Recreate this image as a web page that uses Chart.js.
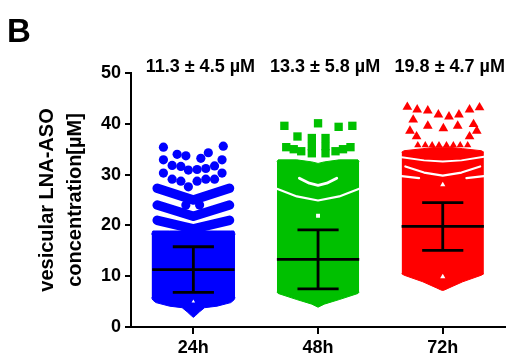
<!DOCTYPE html>
<html>
<head>
<meta charset="utf-8">
<script src="https://cdn.jsdelivr.net/npm/chart.js@4.4.1/dist/chart.umd.min.js"></script>
<style>
  html, body { margin: 0; padding: 0; background: #fff; }
  #wrap { width: 511px; height: 359px; }
</style>
</head>
<body>
<div id="wrap"><canvas id="chart"></canvas></div>
<script>
// groups
const categories = ['24h', '48h', '72h'];
const means = [11.3, 13.3, 19.8];
const sds = [4.5, 5.8, 4.7];
const colors = ['#0000ff', '#00c000', '#ff0000'];

// x values are offsets from the group centre (category units), y in µM

// 24h - dense body outline
const body24X = [-0.335, -0.325, -0.30, -0.19, -0.09, -0.05, -0.015, 0, 0.015, 0.05, 0.09, 0.19, 0.30, 0.325, 0.335];
const body24Low = [5.8, 5.3, 4.8, 4.1, 3.8, 3.0, 2.2, 1.9, 2.2, 3.0, 3.8, 4.1, 4.8, 5.3, 5.8];
const body24High = [18.2, 18.9, 18.9, 18.9, 18.9, 18.9, 18.9, 18.9, 18.9, 18.9, 18.9, 18.9, 18.9, 18.9, 18.2];
// 24h - chevron bands of packed points
const band24X = [-0.29, 0, 0.29];
const band24A = [27.3, 25.0, 27.3];
const band24B = [24.0, 21.8, 24.0];
const band24C = [21.0, 19.3, 21.0];
// 24h - single points
const dots24X = [-0.24, 0.24, -0.13, -0.06, 0.12, 0.06, -0.24, 0.23, -0.17, -0.10, -0.04, 0.03, 0.10, 0.17, -0.24, 0.23, -0.17, -0.10, -0.04, 0.03, 0.10, 0.17, -0.06, 0.05];
const dots24Y = [35.4, 35.6, 34.0, 33.7, 34.3, 33.2, 32.9, 32.9, 31.8, 31.6, 30.9, 31.0, 31.2, 31.7, 30.3, 30.3, 29.1, 28.7, 27.6, 28.7, 29.1, 29.1, 24.0, 24.0];

// 48h
const body48X = [-0.33, -0.32, -0.17, -0.05, 0, 0.05, 0.17, 0.32, 0.33];
const body48Low = [6.9, 6.6, 5.4, 4.5, 3.9, 4.5, 5.4, 6.6, 6.9];
const body48High = [32.5, 32.9, 32.9, 32.5, 32.2, 32.5, 32.9, 32.9, 32.5];
const dots48X = [-0.27, 0.0, 0.165, 0.275, -0.165, -0.05, 0.06, -0.05, 0.06, -0.05, 0.06, -0.255, -0.195, -0.135, 0.14, 0.20, 0.26];
const dots48Y = [39.6, 40.1, 39.4, 39.6, 37.5, 37.2, 37.2, 35.6, 35.6, 34.2, 34.2, 35.4, 35.0, 34.6, 34.6, 35.0, 35.4];
const gap48UX = [-0.33, -0.17, 0, 0.17, 0.33];
const gap48UY = [27.2, 25.7, 24.9, 25.7, 27.2];
const gap48SX = [-0.15, -0.07, 0, 0.07, 0.15];
const gap48SY = [29.3, 28.3, 27.9, 28.3, 29.3];

// 72h
const body72X = [-0.33, -0.31, -0.16, -0.05, -0.015, 0, 0.015, 0.05, 0.16, 0.31, 0.33];
const body72Low = [10.5, 10.2, 8.9, 7.7, 7.3, 7.2, 7.3, 7.7, 8.9, 10.2, 10.5];
const body72High = [34.4, 34.7, 35.1, 35.4, 35.4, 35.4, 35.4, 35.4, 35.1, 34.7, 34.4];
const dots72X = [-0.284, -0.205, -0.12, -0.035, 0.05, 0.13, 0.215, 0.295, -0.237, -0.12, 0.005, 0.12, 0.247, -0.263, -0.21, 0.215, 0.273];
const dots72Y = [43.3, 42.8, 42.6, 41.8, 41.4, 41.8, 42.8, 43.2, 40.8, 39.6, 39.1, 39.6, 39.9, 38.6, 37.5, 37.5, 38.6];
const teeth72X = [-0.2, -0.14, -0.085, -0.03, 0.03, 0.085, 0.14, 0.2];
const teeth72Y = [35.8, 35.8, 35.8, 35.8, 35.8, 35.8, 35.8, 35.8];
const gap72AX = [-0.33, -0.15, 0, 0.15, 0.33];
const gap72AY = [33.4, 32.8, 32.6, 32.8, 33.5];
const gap72BX = [-0.3, -0.15, 0, 0.15, 0.3];
const gap72BY = [31.6, 30.4, 29.8, 30.4, 31.6];
const holes72Y = [28.0, 9.9];

const FONT = '"Liberation Sans", Arial, sans-serif';

function pts(g, xs, ys) {
    return xs.map((x, i) => ({ x: g + x, y: ys[i] }));
}

const datasets = [];

function body(g, xs, low, high) {
    const c = colors[g];
    datasets.push({ type: 'line', data: pts(g, xs, low), borderColor: c, borderWidth: 1, pointRadius: 0, fill: false, order: 6 });
    datasets.push({ type: 'line', data: pts(g, xs, high), borderColor: c, borderWidth: 1, pointRadius: 0, backgroundColor: c, fill: '-1', order: 6 });
}

function stroke(g, xs, ys, color, width, order) {
    datasets.push({ type: 'line', data: pts(g, xs, ys), borderColor: color, borderWidth: width, borderCapStyle: 'round', borderJoinStyle: 'round', pointRadius: 0, fill: false, order });
}

function dots(g, xs, ys, style, radius, color, order) {
    datasets.push({ type: 'scatter', data: pts(g, xs, ys), pointStyle: style, pointRadius: radius, backgroundColor: color, borderWidth: 0, order });
}

// 24h
body(0, body24X, body24Low, body24High);
[band24A, band24B, band24C].forEach(b => stroke(0, band24X, b, colors[0], 9.5, 5));
dots(0, dots24X, dots24Y, 'circle', 4.6, colors[0], 4);
dots(0, [0], [5.0], 'triangle', 2, '#fff', 3);

// 48h
body(1, body48X, body48Low, body48High);
dots(1, dots48X, dots48Y, 'rect', 5.9, colors[1], 4);
stroke(1, gap48UX, gap48UY, '#fff', 2.2, 3);
stroke(1, gap48SX, gap48SY, '#fff', 2.8, 3);
dots(1, [0], [21.9], 'rect', 2.8, '#fff', 3);

// 72h
body(2, body72X, body72Low, body72High);
dots(2, dots72X, dots72Y, 'triangle', 5.6, colors[2], 4);
dots(2, teeth72X, teeth72Y, 'triangle', 4.2, colors[2], 4);
stroke(2, gap72AX, gap72AY, '#fff', 2, 3);
stroke(2, gap72BX, gap72BY, '#fff', 2.2, 3);
stroke(2, [-0.33, -0.19], [29.7, 29.3], '#fff', 2.2, 3);
stroke(2, [0.19, 0.33], [29.3, 29.7], '#fff', 2.2, 3);
dots(2, [0, 0], holes72Y, 'triangle', 3, '#fff', 3);

// mean +/- SD bars
means.forEach((m, g) => {
    const hi = m + sds[g], lo = m - sds[g];
    datasets.push({
        type: 'line',
        data: [
            { x: g - 0.33, y: m }, { x: g + 0.33, y: m }, { x: g, y: null },
            { x: g, y: lo }, { x: g, y: hi }, { x: g, y: null },
            { x: g - 0.165, y: hi }, { x: g + 0.165, y: hi }, { x: g, y: null },
            { x: g - 0.165, y: lo }, { x: g + 0.165, y: lo }
        ],
        borderColor: '#000', borderWidth: 2.8, pointRadius: 0, fill: false, spanGaps: false, order: 1
    });
});

const panelText = {
    id: 'panelText',
    afterDraw(chart) {
        const { ctx } = chart;
        const x = chart.scales.x;
        ctx.save();
        ctx.fillStyle = '#000';
        ctx.font = 'bold 33px ' + FONT;
        ctx.textBaseline = 'alphabetic';
        ctx.fillText('B', 7, 42);
        ctx.font = 'bold 18px ' + FONT;
        ctx.textAlign = 'center';
        ctx.textBaseline = 'middle';
        means.forEach((m, i) => {
            ctx.fillText(`${m.toFixed(1)} ± ${sds[i].toFixed(1)} µM`, x.getPixelForValue(i) + 7, 67);
        });
        ctx.restore();
    }
};

new Chart(document.getElementById('chart'), {
    type: 'scatter',
    data: { datasets },
    options: {
        responsive: true,
        maintainAspectRatio: false,
        animation: false,
        events: [],
        layout: { padding: { top: 73, left: 0, right: 0, bottom: 0 } },
        plugins: { legend: { display: false }, tooltip: { enabled: false } },
        scales: {
            x: {
                type: 'linear',
                min: -0.5,
                max: 2.5,
                afterBuildTicks: s => { s.ticks = categories.map((c, i) => ({ value: i })); },
                afterFit: s => { s.height = 32; },
                ticks: {
                    callback: v => categories[v],
                    color: '#000',
                    font: { family: FONT, size: 18, weight: 'bold' },
                    padding: 3,
                    maxRotation: 0
                },
                grid: { drawOnChartArea: false, drawTicks: true, tickLength: 7, color: '#000', lineWidth: 2 },
                border: { display: true, color: '#000', width: 2 }
            },
            y: {
                min: 0,
                max: 50,
                afterFit: s => { s.width = 131; },
                ticks: {
                    stepSize: 10,
                    color: '#000',
                    font: { family: FONT, size: 18, weight: 'bold' },
                    padding: 4
                },
                grid: { drawOnChartArea: false, drawTicks: true, tickLength: 6, color: '#000', lineWidth: 2 },
                border: { display: true, color: '#000', width: 2 },
                title: {
                    display: true,
                    text: ['vesicular LNA-ASO', 'concentration[µM]'],
                    color: '#000',
                    font: { family: FONT, size: 20, weight: 'bold', lineHeight: 1.4 },
                    padding: { top: 33, bottom: 0 }
                }
            }
        }
    },
    plugins: [panelText]
});
</script>
</body>
</html>
